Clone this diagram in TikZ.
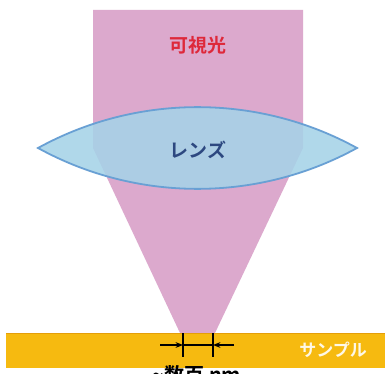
\documentclass[tikz,border=0pt]{standalone}
\usepackage{fontspec}
\setmainfont{Noto Sans CJK JP}[BoldFont={Noto Sans CJK JP Bold}]
\usepackage{xcolor}
\usetikzlibrary{arrows.meta}

\definecolor{beampink}{RGB}{220,169,205}
\definecolor{lensblue}{RGB}{166,211,232}
\definecolor{lensedge}{RGB}{105,160,212}
\definecolor{lenstext}{RGB}{45,72,128}
\definecolor{lightred}{RGB}{222,40,58}
\definecolor{sampleorange}{RGB}{246,186,16}
\definecolor{sampleedge}{RGB}{228,158,10}

\begin{document}
\begin{tikzpicture}[
    x=1pt, y=-1pt,
    label/.style={font=\fontsize{#1}{#1}\selectfont\bfseries, inner sep=0pt},
    dimarr/.style={-{Stealth[length=2.6mm, width=2mm]}, line width=1.2pt},
    tick/.style={line width=1.2pt}
]
\clip (0,0) rectangle (385,374);
\fill[white] (0,0) rectangle (385,374);

% Visible light beam, focused onto the sample
\fill[beampink] (93,10) -- (303,10) -- (303,148) -- (215,333) -- (180,333) -- (93,148) -- cycle;
\node[label=19, text=lightred] (light) at (198,45) {可視光};

% Sample
\fill[sampleorange] (6,333) rectangle (385,368);
\draw[sampleedge, line width=1pt] (6,333.5) -- (385,333.5);
\node[label=17, text=white!90!sampleorange] (sample) at (333,350) {サンプル};

% Lens
\draw[lensedge, line width=1.8pt, fill=lensblue, fill opacity=0.88]
    (38,148) .. controls (137,93.5) and (258,93.5) .. (357,148)
             .. controls (258,202.5) and (137,202.5) .. (38,148) -- cycle;
\node[label=19, text=lenstext] (lens) at (198,150) {レンズ};

% Spot size
\coordinate (t1a) at (183,333);
\coordinate (t1b) at (183,357);
\coordinate (t2a) at (213,333);
\coordinate (t2b) at (213,357);
\coordinate (l1) at (160,345);
\coordinate (l2) at (234,345);
\coordinate (m1) at (183,345);
\coordinate (m2) at (213,345);
\draw[tick] (t1a) -- (t1b);
\draw[tick] (t2a) -- (t2b);
\draw[dimarr] (l1) -- (m1);
\draw[dimarr] (l2) -- (m2);
\draw[tick] (m1) -- (m2);
\node[label=20, anchor=north] (spot) at (197,365) {\char"007E 数百 nm};
\end{tikzpicture}
\end{document}
